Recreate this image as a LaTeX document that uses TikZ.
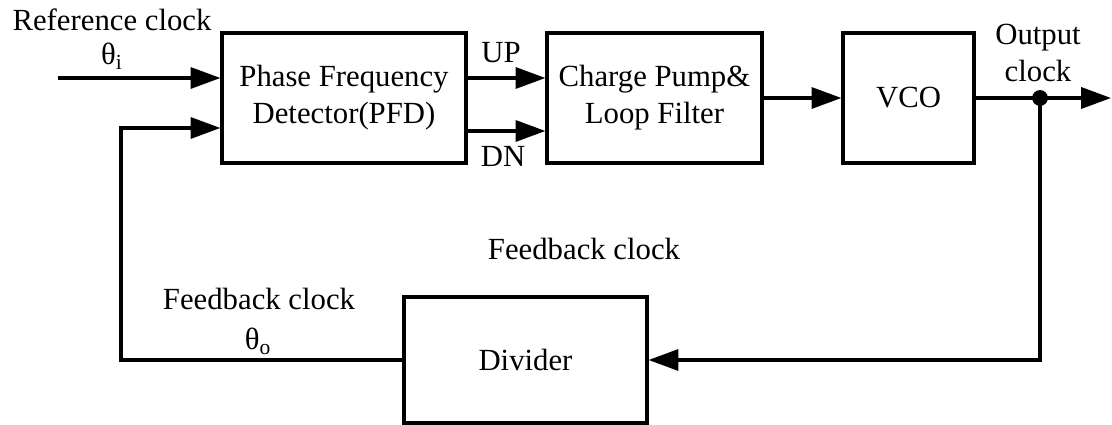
\documentclass[tikz,border=0pt]{standalone}
\usepackage{fontspec}
\setmainfont{Liberation Serif}
\usepackage{tikz}
\usetikzlibrary{arrows.meta,calc,positioning}

\tikzset{
  block/.style={draw,line width=1.8pt,align=center,inner sep=0pt},
  arr/.style={line width=1.8pt,-{Triangle[length=17pt,width=12pt]}},
  wire/.style={line width=1.8pt},
  lbl/.style={anchor=base,align=center,inner sep=0pt}
}

\begin{document}
\begin{tikzpicture}[x=0.02cm,y=-0.02cm,font=\fontsize{17.5}{21}\selectfont]
  \useasboundingbox (0,0) rectangle (1112,425);
  % Blocks
  \node[block,minimum width=244*0.02cm,minimum height=130*0.02cm] (pfd) at (344,98) {Phase Frequency\\Detector(PFD)};
  \node[block,minimum width=215*0.02cm,minimum height=130*0.02cm] (cp) at (654.5,98) {Charge Pump\&\\Loop Filter};
  \node[block,minimum width=131*0.02cm,minimum height=130*0.02cm] (vco) at (908.5,98) {VCO};
  \node[block,minimum width=243*0.02cm,minimum height=126*0.02cm] (div) at (525.5,360) {Divider};
  % Input and output points
  \coordinate (ref) at (58,78);
  \coordinate (out) at (1111,98);
  \coordinate (tap) at (1040,98);
  \coordinate (fb) at (121,360);
  % Forward path
  \draw[arr] (ref) -- ($(pfd.west)+(0,-20)$);
  \draw[arr] ($(pfd.east)+(0,-20)$) -- ($(cp.west)+(0,-20)$);
  \draw[arr] ($(pfd.east)+(0,33)$) -- ($(cp.west)+(0,33)$);
  \draw[arr] (cp) -- (vco);
  \draw[arr] (vco) -- (out);
  \fill (tap) circle (4.5pt);
  % Feedback path
  \draw[arr] (tap) |- (div);
  \draw[arr] (div.west) -- (fb) |- ($(pfd.west)+(0,30)$);
  % Labels
  \node[lbl] (reflbl) at (112,31) {Reference clock};
  \node[lbl] (thetai) at (112,65) {θ\textsubscript{i}};
  \node[lbl] (uplbl) at (501,63) {UP};
  \node[lbl] (dnlbl) at (503,167) {DN};
  \node[lbl] (outlbl) at (1038,45) {Output};
  \node[lbl] (outlbl2) at (1038,82) {clock};
  \node[lbl] (fblbl) at (584,260) {Feedback clock};
  \node[lbl] (fblbl2) at (259,310) {Feedback clock};
  \node[lbl] (thetao) at (258,350) {θ\textsubscript{o}};
\end{tikzpicture}
\end{document}
